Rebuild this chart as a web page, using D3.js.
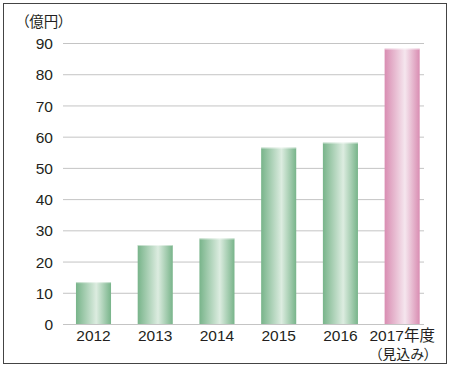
<!DOCTYPE html>
<html><head><meta charset="utf-8">
<script src="https://cdn.jsdelivr.net/npm/d3@7"></script>
<style>body{margin:0;background:#fff;} svg{display:block;} .palt{font-feature-settings:"palt" 1;}</style>
</head><body>
<svg id="chart" width="450" height="368"></svg>
<script>
const categories = ["2012","2013","2014","2015","2016","2017年度"];
const values = [13.4, 25.3, 27.4, 56.5, 58.1, 88.2];
const forecast = [false,false,false,false,false,true];
const yTicks = [0,10,20,30,40,50,60,70,80,90];
const unitLabel = "（億円）";
const subLabel = "（見込み）";

const svg = d3.select("#chart");
const font = "Liberation Sans, Arial, Noto Sans CJK JP, sans-serif";
const textColor = "#231f20";

// border
svg.append("rect").attr("x",3.5).attr("y",3.5).attr("width",443).attr("height",360)
  .attr("fill","none").attr("stroke","#444").attr("stroke-width",1);

const y = d3.scaleLinear().domain([0,90]).range([324,43]);
const x = d3.scaleBand().domain(categories).range([63,424]).paddingInner(0.432).paddingOuter(0.14).align(0.75);

const defs = svg.append("defs");
function grad(id, edge, mid) {
  const g = defs.append("linearGradient").attr("id",id).attr("x1","0").attr("x2","1").attr("y1","0").attr("y2","0");
  g.append("stop").attr("offset","0%").attr("stop-color",edge);
  g.append("stop").attr("offset","58%").attr("stop-color",mid);
  g.append("stop").attr("offset","100%").attr("stop-color",edge);
}
grad("gGreen","#78b48a","#dcece0");
grad("gPink","#d98db2","#f5e6ee");

// gridlines
svg.append("g").selectAll("line").data(yTicks).join("line")
  .attr("x1",63).attr("x2",424)
  .attr("y1",d=>y(d)+0.5).attr("y2",d=>y(d)+0.5)
  .attr("stroke","#c4c4c4").attr("stroke-width",1);

// y axis labels via d3 axis
const yAxis = svg.append("g").attr("transform","translate(53,0)")
  .call(d3.axisLeft(y).tickValues(yTicks).tickSize(0).tickPadding(0));
yAxis.select(".domain").remove();
yAxis.selectAll("text").attr("font-family",font).attr("font-size",15.5).attr("fill",textColor).attr("dy","0.36em");

// unit label
svg.append("text").attr("class","palt").attr("x",22).attr("y",27).attr("font-family",font)
  .attr("font-size",14.5).attr("fill",textColor).text(unitLabel);

// bars
svg.append("g").selectAll("rect").data(categories).join("rect")
  .attr("x",d=>x(d)).attr("width",x.bandwidth())
  .attr("y",(d,i)=>y(values[i])).attr("height",(d,i)=>y(0)-y(values[i]))
  .attr("fill",(d,i)=>forecast[i]?"url(#gPink)":"url(#gGreen)");
// top highlight
svg.append("g").selectAll("rect").data(categories).join("rect")
  .attr("x",d=>x(d)).attr("width",x.bandwidth())
  .attr("y",(d,i)=>y(values[i])).attr("height",1)
  .attr("fill","#ffffff").attr("opacity",0.5);

// x labels
const xAxis = svg.append("g").attr("transform","translate(0,324)")
  .call(d3.axisBottom(x).tickSize(0).tickPadding(0));
xAxis.select(".domain").remove();
xAxis.selectAll("text").attr("class","palt").attr("font-family",font).attr("font-size",15.5).attr("fill",textColor)
  .attr("y",17).attr("dy",0);
svg.append("text").attr("class","palt").attr("x",x(categories[5])+x.bandwidth()/2+1).attr("y",358.5)
  .attr("text-anchor","middle").attr("font-family",font)
  .attr("font-size",14).attr("fill",textColor).text(subLabel);
</script>
</body></html>
